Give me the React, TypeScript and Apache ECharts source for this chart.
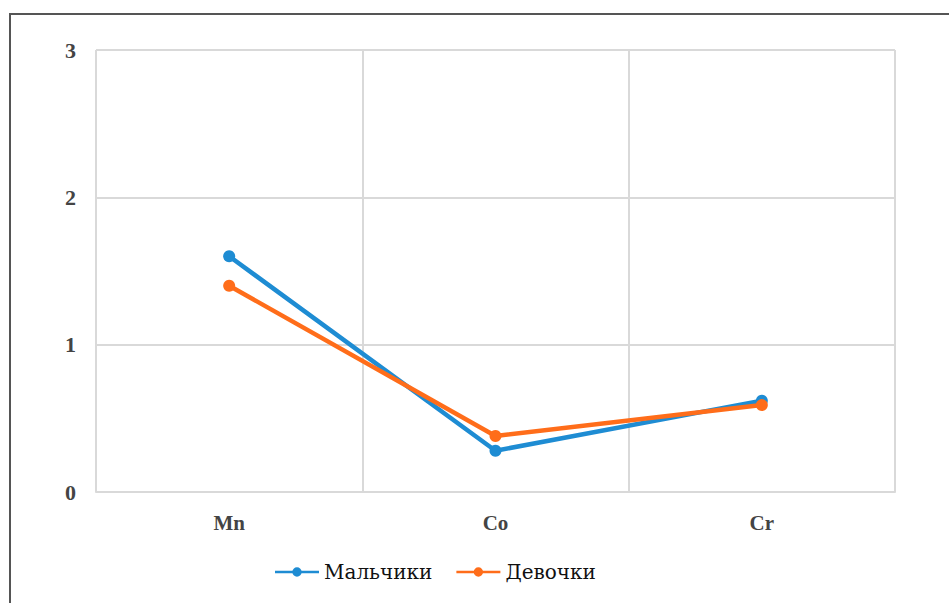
import React, { useEffect, useRef } from "react";
import * as echarts from "echarts";

const categories = ["Mn", "Co", "Cr"];
const boys = [1.6, 0.28, 0.62];
const girls = [1.4, 0.38, 0.59];
const seriesNames = ["Мальчики", "Девочки"];

export default function App() {
  const ref = useRef<HTMLDivElement>(null);
  useEffect(() => {
    const chart = echarts.init(ref.current!, null, { renderer: "svg" });
    const serif = "Liberation Serif";
    const legendFont = "DejaVu Serif";
    const icon =
      "path://M0,4 L44,4 L44,6.4 L0,6.4 Z M22,0.5 A4.7,4.7 0 1 1 22,9.9 A4.7,4.7 0 1 1 22,0.5 Z";
    chart.setOption({
      animation: false,
      backgroundColor: "#ffffff",
      textStyle: { fontFamily: serif },
      graphic: [
        {
          type: "rect",
          shape: { x: 10, y: 14, width: 1000, height: 700 },
          style: { fill: "none", stroke: "#555555", lineWidth: 2 },
          silent: true,
        },
      ],
      grid: { left: 96, top: 50, right: 54, bottom: 111 },
      legend: {
        top: 557,
        left: 270,
        itemGap: 24,
        itemWidth: 44,
        itemHeight: 10,
        textStyle: { fontFamily: legendFont, fontSize: 20, color: "#111" },
        data: seriesNames.map((n) => ({
          name: n,
          icon,
          textStyle: { fontFamily: legendFont, fontSize: 20, color: "#111" },
        })),
      },
      xAxis: {
        type: "category",
        data: categories,
        boundaryGap: true,
        axisLine: { show: true, lineStyle: { color: "#d9d9d9", width: 2 } },
        axisTick: { show: false },
        splitLine: { show: true, lineStyle: { color: "#d9d9d9", width: 2 } },
        axisLabel: {
          fontFamily: serif,
          fontSize: 21,
          fontWeight: "bold",
          color: "#444",
          margin: 20,
        },
      },
      yAxis: {
        type: "value",
        min: 0,
        max: 3,
        interval: 1,
        axisLine: { show: false },
        axisTick: { show: false },
        splitLine: { show: true, lineStyle: { color: "#d9d9d9", width: 2 } },
        axisLabel: {
          fontFamily: serif,
          fontSize: 22,
          fontWeight: "bold",
          color: "#444",
          margin: 20,
        },
      },
      series: [
        {
          name: seriesNames[0],
          type: "line",
          data: boys,
          symbol: "circle",
          symbolSize: 12,
          itemStyle: { color: "#1E8CD3" },
          lineStyle: { color: "#1E8CD3", width: 4.5 },
        },
        {
          name: seriesNames[1],
          type: "line",
          data: girls,
          symbol: "circle",
          symbolSize: 12,
          itemStyle: { color: "#FF6D1A" },
          lineStyle: { color: "#FF6D1A", width: 4.5 },
        },
      ],
    });
    return () => chart.dispose();
  }, []);
  return (
    <div
      ref={ref}
      style={{ position: "fixed", left: 0, top: 0, width: 949, height: 603, background: "#fff" }}
    />
  );
}
